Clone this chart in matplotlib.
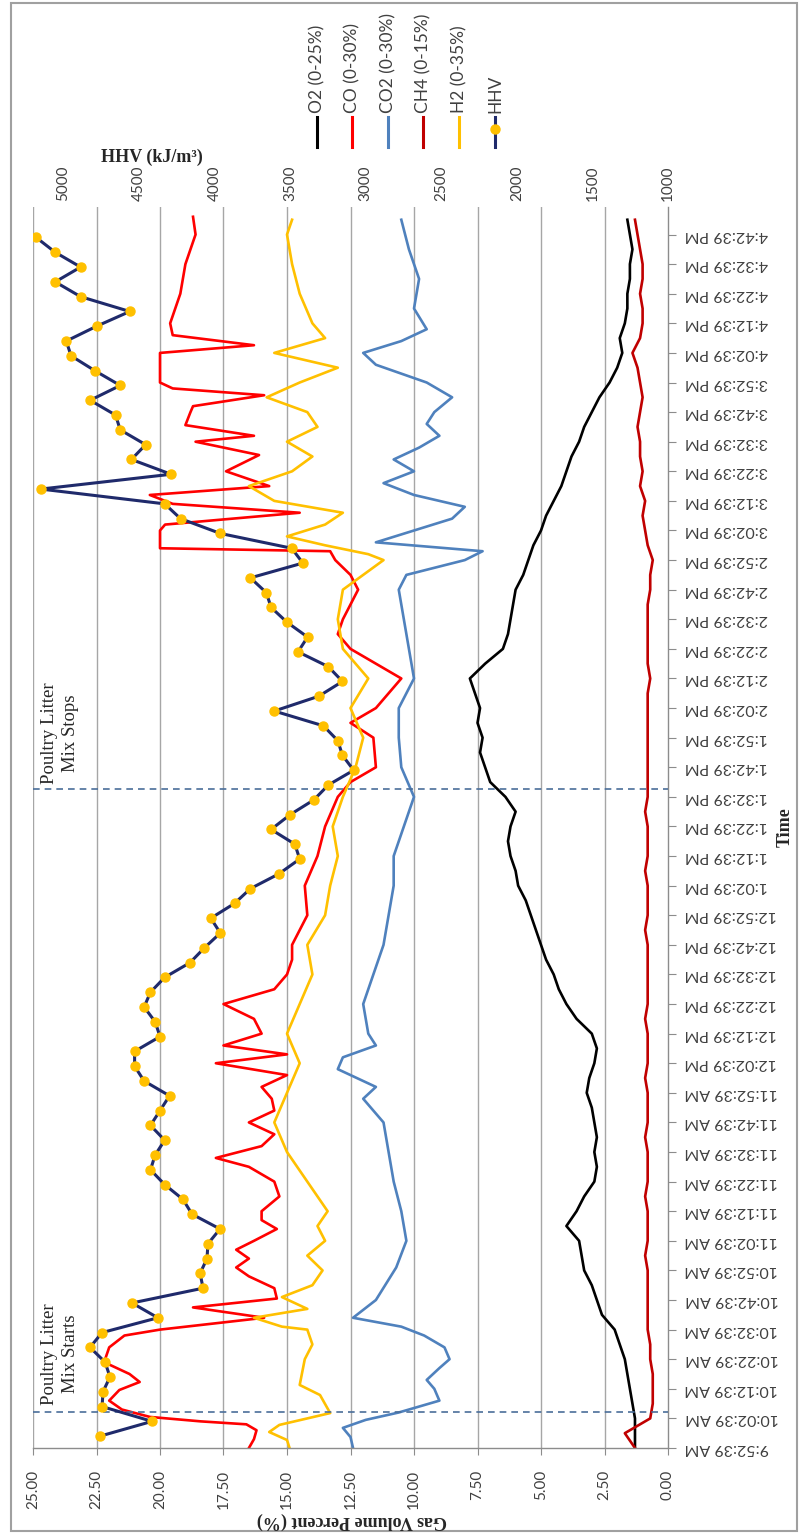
import matplotlib
matplotlib.use("Agg")
import matplotlib.pyplot as plt
from matplotlib.lines import Line2D
from matplotlib.patches import Rectangle

# ---------------- data ----------------
time_labels = ["9:52:39 AM", "10:02:39 AM", "10:12:39 AM", "10:22:39 AM", "10:32:39 AM",
               "10:42:39 AM", "10:52:39 AM", "11:02:39 AM", "11:12:39 AM", "11:22:39 AM",
               "11:32:39 AM", "11:42:39 AM", "11:52:39 AM", "12:02:39 PM", "12:12:39 PM",
               "12:22:39 PM", "12:32:39 PM", "12:42:39 PM", "12:52:39 PM", "1:02:39 PM",
               "1:12:39 PM", "1:22:39 PM", "1:32:39 PM", "1:42:39 PM", "1:52:39 PM",
               "2:02:39 PM", "2:12:39 PM", "2:22:39 PM", "2:32:39 PM", "2:42:39 PM",
               "2:52:39 PM", "3:02:39 PM", "3:12:39 PM", "3:22:39 PM", "3:32:39 PM",
               "3:42:39 PM", "3:52:39 PM", "4:02:39 PM", "4:12:39 PM", "4:22:39 PM",
               "4:32:39 PM", "4:42:39 PM"]
time_ticks = [10 * i for i in range(len(time_labels))]  # minutes after 9:52:39 AM

gas_ticks = [0.0, 2.5, 5.0, 7.5, 10.0, 12.5, 15.0, 17.5, 20.0, 22.5, 25.0]
hhv_ticks = [1000, 1500, 2000, 2500, 3000, 3500, 4000, 4500, 5000]

# minutes after 9:52:39 AM
t5 = [0, 5, 10, 15, 20, 25, 30, 35, 40, 45, 50, 55, 60, 65, 70, 75, 80, 85, 90, 95,
      100, 105, 110, 115, 120, 125, 130, 135, 140, 145, 150, 155, 160, 165, 170, 175,
      180, 185, 190, 195, 200, 205, 210, 215, 220, 225, 230, 235, 240, 245, 250, 255,
      260, 265, 270, 275, 280, 285, 290, 295, 300, 305, 310, 315, 320, 325, 330, 335,
      340, 345, 350, 355, 360, 365, 370, 375, 380, 385, 390, 395, 400, 405, 410, 415]

o2 = [1.3, 1.3, 1.3, 1.4, 1.5, 1.6, 1.7, 1.9, 2.1, 2.6, 2.8, 3.0, 3.3, 3.4, 3.5, 4.0,
      3.6, 3.3, 2.9, 2.8, 2.9, 2.8, 2.9, 3.0, 3.2, 3.1, 2.9, 2.8, 3.0, 3.6, 4.0, 4.3,
      4.5, 4.8, 5.0, 5.2, 5.4, 5.6, 5.9, 6.0, 6.2, 6.3, 6.2, 6.0, 6.4, 7.0, 7.2, 7.4,
      7.3, 7.5, 7.4, 7.6, 7.8, 7.2, 6.5, 6.3, 6.2, 6.1, 6.0, 5.7, 5.5, 5.3, 5.0, 4.8,
      4.5, 4.2, 4.0, 3.8, 3.5, 3.3, 3.0, 2.7, 2.3, 2.0, 1.8, 1.9, 1.7, 1.6, 1.6, 1.5,
      1.5, 1.4, 1.5, 1.6]

ch4 = [1.3, 1.7, 0.7, 0.6, 0.6, 0.6, 0.7, 0.7, 0.8, 0.8, 0.8, 0.8, 0.8, 0.9, 0.8, 0.8,
       0.8, 0.9, 0.8, 0.8, 0.8, 0.9, 0.8, 0.8, 0.8, 0.9, 0.8, 0.8, 0.8, 0.9, 0.8, 0.8,
       0.8, 0.8, 0.8, 0.9, 0.8, 0.8, 0.8, 0.9, 0.8, 0.8, 0.8, 0.9, 0.8, 0.8, 0.8, 0.8,
       0.8, 0.8, 0.8, 0.8, 0.7, 0.8, 0.8, 0.8, 0.8, 0.8, 0.7, 0.7, 0.6, 0.8, 0.9, 1.0,
       0.9, 1.1, 1.0, 1.1, 1.1, 1.2, 1.1, 1.0, 1.1, 1.2, 1.4, 1.1, 1.0, 1.0, 1.1, 1.0,
       1.0, 1.1, 1.2, 1.3]

t_co = [0, 3, 6, 8, 9, 10.5, 13, 16, 19.6, 22.3, 25, 29, 34, 38, 40, 44, 47.5, 50.5,
        54, 58, 61, 64, 67, 70, 74, 77, 80, 85, 90, 95, 98, 102, 106, 110, 114, 118,
        122, 126, 130, 133, 136, 140, 145, 150, 155, 160, 165, 170, 175, 180, 190, 200,
        210, 220, 225, 230, 240, 245, 250, 255, 260, 265, 270, 275, 280, 285, 290, 295,
        300, 303, 304, 310, 312, 316, 319, 322, 325, 330, 335.5, 340, 342, 345.6, 350,
        352, 355.7, 358, 360, 370, 372.6, 376, 380, 390, 400, 410, 416]
co = [16.5, 16.3, 16.2, 16.6, 18.4, 20.4, 21.5, 22.0, 21.6, 20.8, 21.2, 22.2, 22.0,
      21.4, 20.0, 15.9, 18.7, 15.4, 15.5, 16.5, 17.0, 16.5, 17.0, 16.3, 15.4, 16.0,
      16.0, 15.3, 15.5, 16.5, 17.8, 16.0, 15.5, 16.5, 15.5, 15.6, 16.0, 15.0, 17.8,
      15.0, 17.5, 16.0, 16.3, 17.5, 15.5, 15.0, 14.8, 14.8, 14.5, 14.2, 14.3, 13.8,
      13.5, 13.0, 12.5, 11.5, 11.6, 12.5, 11.5, 11.0, 10.5, 11.5, 12.5, 13.0, 12.8,
      12.5, 12.2, 12.5, 13.1, 13.3, 20.0, 20.0, 19.8, 14.5, 19.5, 20.4, 15.7, 17.4,
      16.1, 18.6, 16.3, 19.0, 18.8, 18.7, 15.9, 19.5, 20.0, 20.0, 16.3, 19.5, 19.6,
      19.2, 19.0, 18.6, 18.7]

t_co2 = [0, 3.7, 6.8, 9.5, 12, 16, 20, 23, 27, 30, 34, 38, 41, 44, 50, 61, 70, 80, 90,
         100, 110, 118, 122, 128, 132, 136, 140, 150, 160, 170, 180, 190, 200, 210, 220,
         230, 240, 250, 260, 270, 280, 290, 295, 300, 303, 306, 310, 314, 318, 322, 326,
         330, 334, 338, 342, 346, 350, 355, 360, 366, 370, 374, 378, 385, 395, 405, 415]
co2 = [12.4, 12.5, 12.8, 11.9, 10.6, 9.0, 9.2, 9.5, 9.0, 8.6, 8.8, 9.6, 10.5, 12.4,
       11.5, 10.7, 10.3, 10.5, 10.8, 11.0, 11.2, 12.0, 11.5, 13.0, 12.8, 11.5, 11.8,
       12.0, 11.6, 11.2, 11.0, 10.8, 10.8, 10.4, 10.0, 10.5, 10.6, 10.6, 10.0, 10.2,
       10.4, 10.6, 10.3, 8.0, 7.3, 11.5, 10.0, 8.5, 8.0, 10.0, 11.2, 10.0, 10.8, 9.8,
       9.0, 9.5, 9.2, 8.5, 9.5, 11.5, 12.0, 10.5, 9.5, 10.0, 9.8, 10.2, 10.5]

t_h2 = [0, 2.7, 5.4, 7.8, 11.8, 17.9, 21.3, 30, 35, 40, 41, 44, 47, 51, 55, 60, 65, 70,
        75, 80, 90, 100, 110, 120, 130, 140, 150, 160, 170, 180, 190, 200, 210, 220, 230,
        240, 250, 260, 270, 280, 290, 295, 300, 302, 305, 308, 312, 316, 320, 325, 330,
        335, 340, 345, 350, 355, 360, 365, 370, 375, 380, 390, 400, 410, 415]
h2 = [14.9, 15.0, 15.7, 15.3, 13.3, 13.7, 14.5, 14.3, 14.0, 14.2, 15.2, 16.3, 14.2,
      15.2, 14.0, 13.6, 14.2, 13.5, 13.8, 13.4, 14.2, 15.0, 15.5, 15.0, 14.5, 15.0,
      14.5, 14.0, 14.2, 13.5, 13.3, 13.0, 13.2, 12.8, 12.3, 12.0, 12.5, 11.8, 12.8,
      13.0, 12.8, 12.0, 11.2, 11.8, 13.5, 15.0, 13.5, 12.8, 15.5, 16.5, 14.8, 14.0,
      15.0, 13.8, 14.2, 15.8, 14.5, 13.0, 15.5, 13.5, 14.0, 14.5, 14.8, 15.0, 14.8]

t_hhv = [4, 9, 14, 19, 24, 29, 34, 39, 44, 49, 54, 59, 64, 69, 74, 79, 84, 89, 94, 99,
         104, 109, 114, 119, 124, 129, 134, 139, 144, 149, 154, 159, 164, 169, 174, 179,
         184, 189, 194, 199, 204, 209, 214, 219, 224, 229, 234, 239, 244, 249, 254, 259,
         264, 269, 274, 279, 284, 289, 294, 299, 304, 309, 314, 319, 324, 329, 334, 339,
         344, 349, 354, 359, 364, 369, 374, 379, 384, 389, 394, 399, 404, 409]
hhv = [4757, 4413, 4743, 4737, 4691, 4723, 4823, 4743, 4374, 4545, 4075, 4095, 4049,
       4043, 3963, 4148, 4208, 4329, 4423, 4392, 4329, 4423, 4360, 4297, 4465, 4528,
       4528, 4360, 4392, 4465, 4423, 4329, 4161, 4066, 3961, 4024, 3867, 3762, 3573,
       3436, 3468, 3625, 3499, 3342, 3247, 3079, 3153, 3184, 3279, 3604, 3310, 3153,
       3247, 3447, 3384, 3520, 3625, 3657, 3762, 3415, 3489, 3961, 4224, 4329, 5148,
       4287, 4549, 4455, 4623, 4654, 4822, 4623, 4791, 4948, 4980, 4780, 4560, 4885,
       5053, 4885, 5053, 5179]

mix_start = 12.2
mix_stop = 222.6

# ---------------- figure ----------------
W, H = 801, 1535
fig = plt.figure(figsize=(W / 100, H / 100), dpi=100)
fig.patch.set_facecolor("white")


def fx(px):
    return px / W


def fy(py):
    return 1 - py / H


L, R, T, B = 33, 668, 207, 1448
ax = fig.add_axes([fx(L), fy(B), (R - L) / W, (B - T) / H])
tmax = 419.3
ax.set_xlim(25, 0)
ax.set_ylim(0, tmax)

grid_c = "#A6A6A6"
axis_c = "#8C8C8C"
for s in ["top", "left"]:
    ax.spines[s].set_visible(False)
ax.spines["right"].set_color(axis_c)
ax.spines["bottom"].set_color(axis_c)
ax.spines["right"].set_linewidth(1.0)
ax.spines["bottom"].set_linewidth(1.0)

for g in gas_ticks[1:]:
    ax.axvline(g, color=grid_c, lw=1.0, zorder=0)

lw = 1.9
ax.plot(o2, t5, color="#000000", lw=lw, zorder=2)
ax.plot(co, t_co, color="#FF0000", lw=lw, zorder=2)
ax.plot(co2, t_co2, color="#4F81BD", lw=lw, zorder=2)
ax.plot(ch4, t5, color="#C00000", lw=lw, zorder=2)
ax.plot(h2, t_h2, color="#FFC000", lw=lw, zorder=2)

for tm in (mix_start, mix_stop):
    ax.axhline(tm, color="#4A6E9A", lw=1.2, ls=(0, (4, 3)), zorder=3)

tick_font = dict(family=["Lato", "DejaVu Sans"], size=11, color="#404040")

ax.set_xticks(gas_ticks)
ax.set_xticklabels(["%.2f" % g for g in gas_ticks], rotation=90, **tick_font)
ax.tick_params(axis="x", direction="out", length=5, color=axis_c, pad=11)

ax.yaxis.tick_right()
ax.set_yticks(time_ticks)
ax.set_yticklabels(time_labels, rotation=180, family=["Lato", "DejaVu Sans"], size=11.5,
                   color="#404040")
for lab in ax.get_yticklabels():
    lab.set_horizontalalignment("left")
    lab.set_verticalalignment("center")
ax.tick_params(axis="y", direction="out", length=6, color=axis_c, pad=6)

# HHV on the secondary axis
ax2 = ax.twiny()
ax2.set_xlim(5200, 1000)
ax2.set_ylim(0, tmax)
for s in ax2.spines.values():
    s.set_visible(False)
ax2.plot(hhv, t_hhv, color="#1F2A6B", lw=2.2, marker="o", markersize=6.5,
         markerfacecolor="#FFC000", markeredgecolor="#FFC000", zorder=4)
ax2.set_xticks(hhv_ticks)
ax2.set_xticklabels([str(v) for v in hhv_ticks], rotation=90, **tick_font)
ax2.tick_params(axis="x", length=0, pad=4)

# axis titles
title_font = dict(family=["Liberation Serif", "DejaVu Serif"], weight="bold", size=13,
                  color="#262626")
fig.text(fx(152), fy(157), "HHV (kJ/m\u00b3)", ha="center", va="center", **title_font)
fig.text(fx(352), fy(1521), "Gas Volume Percent (%)", ha="center", va="center",
         rotation=180, **title_font)
fig.text(fx(785), fy(827), "Time", ha="center", va="center", rotation=90, **title_font)

# event annotations
note_font = dict(family=["Liberation Serif", "DejaVu Serif"], size=13.5, color="#262626")
fig.text(fx(60), fy(1405), "Poultry Litter\nMix Starts", ha="center", va="bottom",
         rotation=90, linespacing=1.35, **note_font)
fig.text(fx(60), fy(784), "Poultry Litter\nMix Stops", ha="center", va="bottom",
         rotation=90, linespacing=1.35, **note_font)

# legend
legend_items = [("O2 (0-25%)", "#000000", False), ("CO (0-30%)", "#FF0000", False),
                ("CO2 (0-30%)", "#4F81BD", False), ("CH4 (0-15%)", "#C00000", False),
                ("H2 (0-35%)", "#FFC000", False), ("HHV", "#1F2A6B", True)]
leg_x = [317, 352, 388, 423, 459, 495]
for (name, col, mk), x in zip(legend_items, leg_x):
    fig.add_artist(Line2D([fx(x), fx(x)], [fy(147), fy(117)], color=col, lw=2.2))
    if mk:
        fig.add_artist(Line2D([fx(x)], [fy(129)], marker="o", markersize=6.5,
                              color="#FFC000", lw=0))
    fig.text(fx(x), fy(113), name, ha="center", va="bottom", rotation=90,
             family=["Lato", "DejaVu Sans"], size=12.5, color="#404040")

# outer frame
fig.add_artist(Rectangle((fx(11), fy(1531)), (797 - 11) / W, (1531 - 3) / H,
                         transform=fig.transFigure, fill=False, ec="#A0A0A0", lw=1.5))

fig.savefig("out.png", dpi=100, facecolor="white")
